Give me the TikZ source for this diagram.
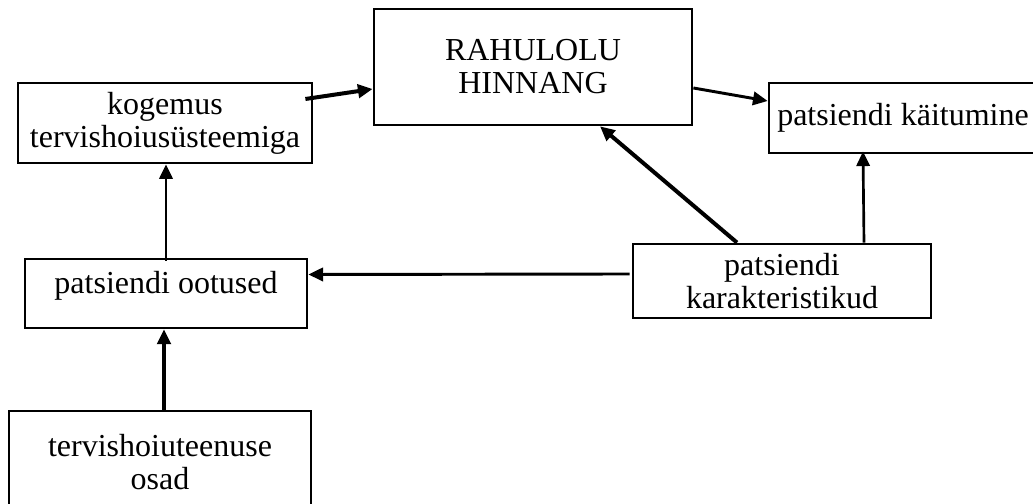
\documentclass[tikz,border=0pt]{standalone}
\usepackage{fontspec}
\setmainfont{Liberation Serif}
\usetikzlibrary{arrows.meta}

\begin{document}
\begin{tikzpicture}[
    x=0.375pt, y=-0.375pt,
    every node/.style={rectangle, draw, line width=1pt, align=center, inner sep=0pt,
        font=\fontsize{12}{12.4}\selectfont},
    arrow/.style={-{Triangle[length=5.5pt, width=5pt]}, line width=1.1pt},
    thickarrow/.style={arrow, line width=1.5pt}
]
\useasboundingbox (0,0) rectangle (1033,504);
\clip (0,0) rectangle (1033,504);

\node (rahulolu) [minimum width=119.3pt, minimum height=43.5pt] at (533,67) {RAHULOLU\\HINNANG};
\node (kogemus) [minimum width=110.3pt, minimum height=30pt] at (165,123) {kogemus\\tervishoiusüsteemiga};
\node (kaitumine) [minimum width=100.5pt, minimum height=26.3pt] at (903,118) {patsiendi käitumine};
\node (ootused) [minimum width=105.8pt, minimum height=25.9pt, text height=8pt, text depth=8pt] at (166,293.5) {patsiendi ootused};
\node (karakt) [minimum width=111.8pt, minimum height=27.8pt] at (782,281) {patsiendi\\karakteristikud};
\node (osad) [minimum width=113.3pt, minimum height=38.3pt] at (160,462) {tervishoiuteenuse\\osad};

\draw[thickarrow] ([shift={(-8,-24)}]kogemus.east) -- ([shift={(0,22)}]rahulolu.west);
\draw[arrow] ([shift={(0,21)}]rahulolu.east) -- ([shift={(0,-17)}]kaitumine.west);
\draw[thickarrow] ([shift={(-45,0)}]karakt.north) -- ([shift={(67,0)}]rahulolu.south);
\draw[arrow, line width=1pt] ([shift={(82,0)}]karakt.north) -- ([shift={(-40,-3)}]kaitumine.south);
\draw[arrow] ([shift={(-2,-7)}]karakt.west) -- ([shift={(0,-19)}]ootused.east);
\draw[arrow] ([shift={(0,3)}]ootused.north) -- ([shift={(1,0)}]kogemus.south);
\draw[thickarrow] ([shift={(4,0)}]osad.north) -- ([shift={(-2,0)}]ootused.south);

\end{tikzpicture}
\end{document}
